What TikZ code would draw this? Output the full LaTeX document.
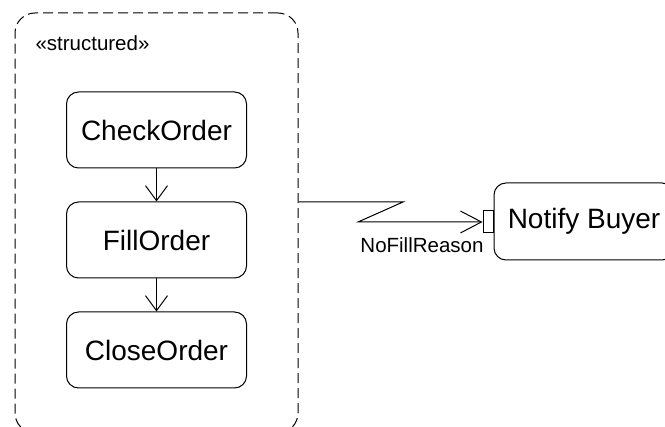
\documentclass[tikz,border=0pt]{standalone}
\usepackage{fontspec}
\setmainfont{Liberation Sans}
\usetikzlibrary{arrows.meta,positioning}
\tikzstyle{action}=[draw,rounded corners=12pt,minimum width=180pt,minimum height=76pt,inner sep=0pt,font=\fontsize{28}{32}\selectfont]
\tikzstyle{flow} = [draw,line width=1pt,-{Straight Barb[length=15pt,width=22pt]}]
\tikzstyle{lbl}=[inner sep=0pt,font=\fontsize{20.5}{24}\selectfont]

\begin{document}
\begin{tikzpicture}[x=1pt,y=-1pt,line width=1pt]
      \useasboundingbox (0,0) rectangle (665,427);
      \clip (0,0) rectangle (665,427);
      % structured region
      \node[draw,dash pattern=on 10pt off 5pt,rounded corners=20pt,minimum width=283pt,minimum height=420pt,inner sep=0pt] (region) at (156.5,223) {};
      \node[lbl,anchor=west] (stereo) at (35,43) {«structured»};

      \foreach \y/\id/\txt in {130/check/CheckOrder,240/fill/FillOrder,350/close/CloseOrder}{
        \node[action] (\id) at (156.5,\y) {\txt};
      }
      \path[flow] (check) -- (fill);
      \path[flow] (fill) -- (close);

      % target action with input pin
      \node[action,minimum width=180pt,minimum height=77pt] (notify) at (584,221.5) {Notify Buyer};
      \node[draw,fill=white,minimum width=10pt,minimum height=22pt,inner sep=0pt,anchor=east] (pin) at (notify.west) {};
      \node[lbl,anchor=east] (reason) at (484,245) {NoFillReason};

      % interrupting edge
      \coordinate (zig1) at (403,202);
      \coordinate (zig2) at (358,222);
      \path[flow,-{Straight Barb[length=21pt,width=22pt]}] (region.east |- zig1) -- (zig1) -- (zig2) -- (zig2 -| pin.west);

    \end{tikzpicture}
\end{document}
